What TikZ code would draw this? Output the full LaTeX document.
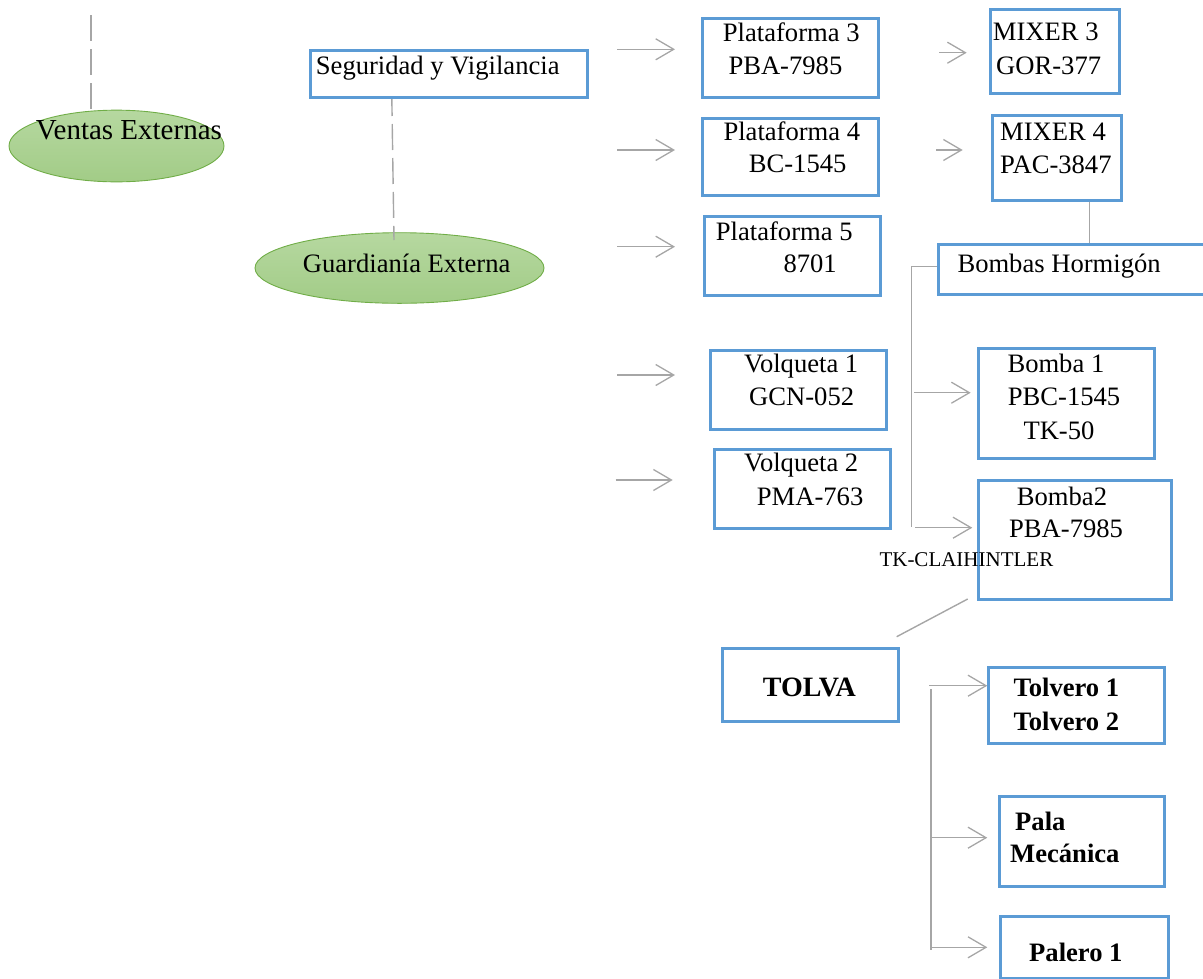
\documentclass[tikz,border=0pt]{standalone}
\usepackage{fontspec}
\setmainfont{Liberation Serif}
\usetikzlibrary{arrows.meta,shapes.geometric}
\definecolor{boxblue}{HTML}{5B9BD5}
\definecolor{lgray}{HTML}{A6A6A6}
\definecolor{elltop}{HTML}{B6D8A0}
\definecolor{ellbot}{HTML}{A2CC87}
\definecolor{ellborder}{HTML}{70AD47}
\begin{document}
\begin{tikzpicture}[x=1pt,y=-1pt,
  box/.style={draw=boxblue,line width=3pt,inner sep=0pt,anchor=north west,fill=white},
  oval/.style={ellipse,draw=ellborder,line width=0.9pt,inner sep=0pt,top color=elltop,bottom color=ellbot},
  txt/.style={anchor=base west,inner sep=0pt,font=\fontsize{26.6}{30}\selectfont},
  btxt/.style={anchor=base west,inner sep=0pt,font=\fontsize{26.6}{30}\selectfont\bfseries},
  stxt/.style={anchor=base west,inner sep=0pt,font=\fontsize{21}{25}\selectfont},
  gline/.style={draw=lgray,line width=1.4pt},
  dline/.style={draw=lgray,line width=1.4pt,dash pattern=on 26pt off 8pt},
  garrow/.style={draw=lgray,line width=1.3pt,-{Straight Barb[length=18pt,width=21pt,line width=1.3pt]}}
]
\useasboundingbox (0,0) rectangle (1203,978);

% ellipses
\node[oval,minimum width=215pt,minimum height=71.7pt] (ve) at (116.5,146) {};
\node[oval,minimum width=289pt,minimum height=70.6pt] (ge) at (399.5,268) {};

% dashed connectors
\coordinate (vtop) at (91,15);
\draw[dline] (vtop) -- (vtop |- ve.north);
\coordinate (s1) at (391.7,90);
\coordinate (g1) at (394,240);
\draw[dline] (s1) -- (g1);

% boxes
\node[box,minimum width=277pt,minimum height=47pt] (sv) at (309,49) {};
\node[box,minimum width=176pt,minimum height=78.7pt] (p3) at (701,17.3) {};
\node[box,minimum width=176pt,minimum height=77.6pt] (p4) at (701,116.7) {};
\node[box,minimum width=176.6pt,minimum height=79pt] (p5) at (702.7,215) {};
\node[box,minimum width=176pt,minimum height=78.4pt] (v1) at (709,349.3) {};
\node[box,minimum width=175.4pt,minimum height=78.7pt] (v2) at (713.3,448) {};
\node[box,minimum width=129.3pt,minimum height=84.6pt] (m3) at (989,7.7) {};
\node[box,minimum width=129.3pt,minimum height=84.7pt] (m4) at (990.7,114.3) {};
\node[box,minimum width=266.5pt,minimum height=50pt] (bh) at (936.7,243.3) {};
\node[box,minimum width=175.4pt,minimum height=110pt] (b1) at (977.3,347.3) {};
\node[box,minimum width=192.7pt,minimum height=119.6pt] (b2) at (977.3,478.7) {};
\node[box,minimum width=175.7pt,minimum height=72.7pt] (tolva) at (721,647.3) {};
\node[box,minimum width=176pt,minimum height=76.3pt] (tol) at (987.3,666) {};
\node[box,minimum width=165.6pt,minimum height=90pt] (pala) at (997.7,795) {};
\node[box,minimum width=167.7pt,minimum height=62pt] (pal) at (999,915) {};

% arrows to plataformas / volquetas
\foreach \n/\y in {a1/49.3,a2/150,a3/246.7}{
  \coordinate (\n s) at (617.3,\y);
  \coordinate (\n e) at (675,\y);
  \draw[garrow] (\n s) -- (\n e);
}
\coordinate (a4s) at (617.3,375); \coordinate (a4e) at (675,375);
\draw[garrow] (a4s) -- (a4e);
\coordinate (a5s) at (615.7,480); \coordinate (a5e) at (672.7,480);
\draw[garrow] (a5s) -- (a5e);

% arrows to mixers
\coordinate (m3s) at (939.3,52.7); \coordinate (m3e) at (966.7,52.7);
\draw[garrow] (m3s) -- (m3e);
\coordinate (m4s) at (936,150); \coordinate (m4e) at (962.7,150);
\draw[garrow] (m4s) -- (m4e);

% mixer 4 to bombas
\coordinate (mb1) at (1089.7,201.7);
\draw[gline] (mb1) -- (mb1 |- bh.north);

% bombas tree
\coordinate (bt1) at (911.7,266.7);
\coordinate (bt2) at (911.7,526.7);
\draw[gline] (bh.west |- bt1) -- (bt1) -- (bt2);
\coordinate (ba1s) at (914.3,392.7); \coordinate (ba1e) at (970.7,392.7);
\draw[garrow] (ba1s) -- (ba1e);
\coordinate (ba2s) at (915.3,527.7); \coordinate (ba2e) at (972.3,527.7);
\draw[garrow] (ba2s) -- (ba2e);

% bomba2 to tolva
\coordinate (dg1) at (967.7,599);
\coordinate (dg2) at (896.7,636.7);
\draw[gline] (dg1) -- (dg2);

% tolva tree
\coordinate (tt1) at (929.3,685.7);
\coordinate (tv1) at (931,689.3);
\coordinate (tv2) at (931,950);
\draw[gline] (tv1) -- (tv2);
\draw[garrow] (tt1) -- (tt1 -| tol.west);
\coordinate (tt2) at (930,837.7);
\draw[garrow] (tt2) -- (987.3,837.7) coordinate (tt2e);
\coordinate (tt3) at (930,947.3);
\draw[garrow] (tt3) -- (987.3,947.3) coordinate (tt3e);

% texts
\node[txt,font=\fontsize{29}{32}\selectfont] (tve) at (35.7,139.3) {Ventas Externas};
\node[txt] (tsv) at (315.7,74) {Seguridad y Vigilancia};
\node[txt] (tge) at (302.7,272.3) {Guardianía Externa};
\node[txt] (tp3a) at (722.7,41.7) {Plataforma 3};
\node[txt] (tp3b) at (728.3,74) {PBA-7985};
\node[txt] (tp4a) at (723.3,140) {Plataforma 4};
\node[txt] (tp4b) at (748.7,172.7) {BC-1545};
\node[txt] (tp5a) at (715.7,240.7) {Plataforma 5};
\node[txt] (tp5b) at (783.3,272.7) {8701};
\node[txt] (tv1a) at (744,372.3) {Volqueta 1};
\node[txt] (tv1b) at (749,405) {GCN-052};
\node[txt] (tv2a) at (744,471.7) {Volqueta 2};
\node[txt] (tv2b) at (756.7,505) {PMA-763};
\node[txt] (tm3a) at (992.7,40.7) {MIXER 3};
\node[txt] (tm3b) at (996,74.3) {GOR-377};
\node[txt] (tm4a) at (1000,140) {MIXER 4};
\node[txt] (tm4b) at (1000,173.3) {PAC-3847};
\node[txt] (tbh) at (957.3,272.7) {Bombas Hormigón};
\node[txt] (tb1a) at (1007.3,372.3) {Bomba 1};
\node[txt] (tb1b) at (1007.7,405) {PBC-1545};
\node[txt] (tb1c) at (1023.3,439.3) {TK-50};
\node[txt] (tb2a) at (1016.7,505) {Bomba2};
\node[txt] (tb2b) at (1009,537.3) {PBA-7985};
\node[stxt] (tb2c) at (879.3,566) {TK-CLAIHINTLER};
\node[btxt,font=\fontsize{28}{32}\selectfont\bfseries] (ttolva) at (762.7,696.7) {TOLVA};
\node[btxt] (ttol1) at (1013.3,696.7) {Tolvero 1};
\node[btxt] (ttol2) at (1013.3,730.7) {Tolvero 2};
\node[btxt] (tpala1) at (1015,830) {Pala};
\node[btxt] (tpala2) at (1010,862.7) {Mecánica};
\node[btxt] (tpal) at (1029,961.7) {Palero 1};
\end{tikzpicture}
\end{document}
